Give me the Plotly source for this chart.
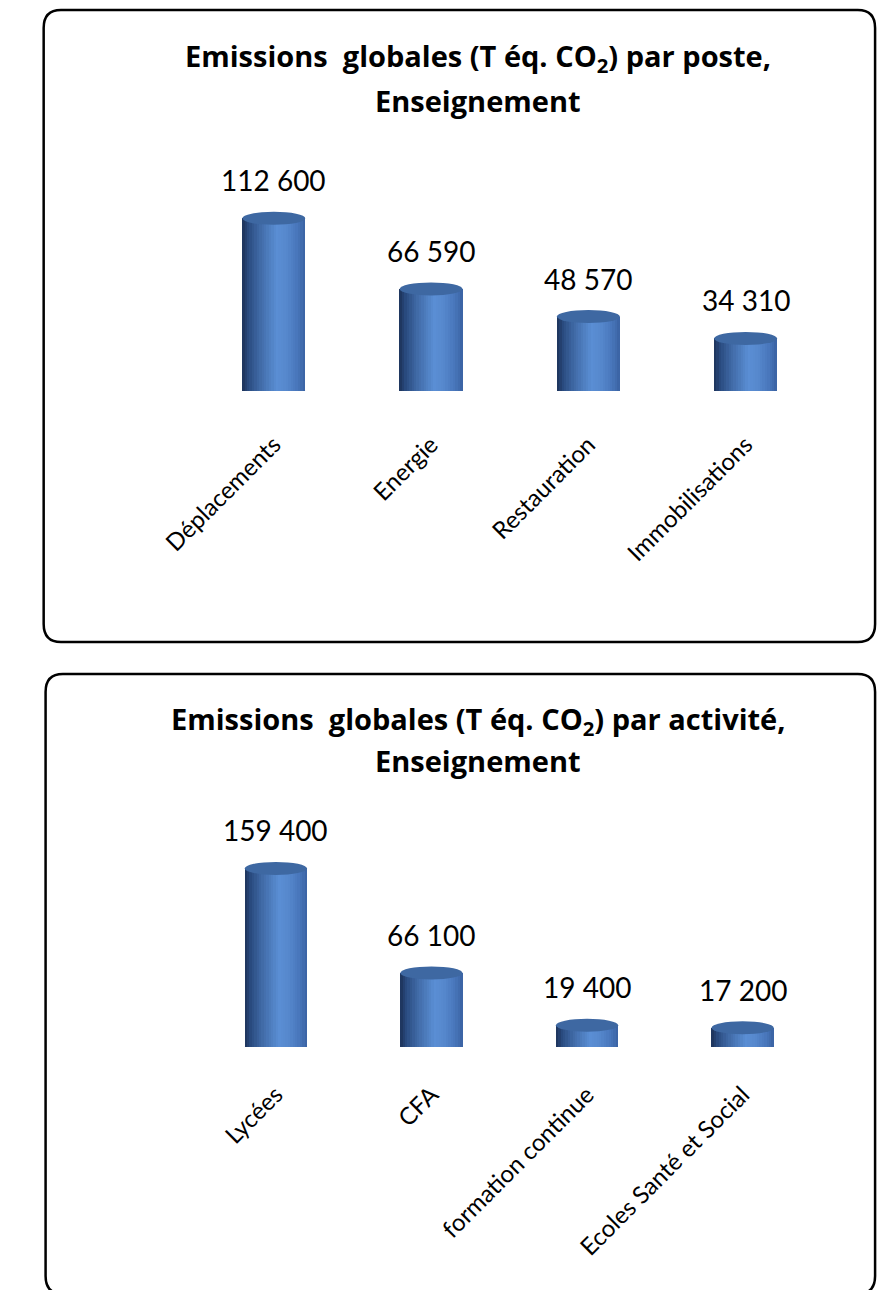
import plotly.graph_objects as go

# ---------------- data ----------------
cats1 = ["Déplacements", "Energie", "Restauration", "Immobilisations"]
vals1 = [112600, 66590, 48570, 34310]
cats2 = ["Lycées", "CFA", "formation continue", "Ecoles Santé et Social"]
vals2 = [159400, 66100, 19400, 17200]
title1 = ["Emissions  globales (T éq. CO<sub>2</sub>) par poste,", "Enseignement"]
title2 = ["Emissions  globales (T éq. CO<sub>2</sub>) par activité,", "Enseignement"]

# ---------------- layout constants (pixels) ----------------
W, H = 877, 1290
FONT = "Lato, 'Open Sans', 'DejaVu Sans', sans-serif"
TFONT = "'Open Sans', Lato, 'DejaVu Sans', sans-serif"
P1 = dict(x0=166, x1=822, ytop=161, ybot=391, ymax=150000)
P2 = dict(x0=169, x1=818, ytop=823, ybot=1047, ymax=200000)
BAR_W = 0.4
NSLICE = 26
TOP_RY_PX = 6.5
BOT_RY_PX = 3.0

stops = [(0.0, (28, 50, 88)), (0.10, (42, 75, 128)), (0.28, (64, 106, 166)),
         (0.55, (90, 142, 212)), (0.70, (86, 136, 205)), (0.88, (72, 118, 186)),
         (1.0, (58, 98, 162))]


def grad(t):
    for (p0, c0), (p1, c1) in zip(stops[:-1], stops[1:]):
        if p0 <= t <= p1:
            f = (t - p0) / (p1 - p0)
            c = [round(a + (b - a) * f) for a, b in zip(c0, c1)]
            return "rgb(%d,%d,%d)" % tuple(c)
    return "rgb(%d,%d,%d)" % stops[-1][1]


def px2x(px):
    return px / W


def px2y(py):
    return 1 - py / H


fig = go.Figure()
shapes = []
annotations = []


def add_chart(cats, vals, P, xa, ya, standoff):
    xref = "x" if xa == "xaxis" else "x2"
    yref = "y" if ya == "yaxis" else "y2"
    idx = list(range(len(cats)))
    dpp = P["ymax"] / (P["ybot"] - P["ytop"])  # data units per pixel
    sw = BAR_W / NSLICE
    for k in range(NSLICE):
        t = (k + 0.5) / NSLICE
        fig.add_trace(go.Bar(
            x=idx, y=vals, xaxis=xref, yaxis=yref,
            width=sw * 1.15, offset=-BAR_W / 2 + k * sw,
            marker=dict(color=grad(t), line=dict(width=0)),
            showlegend=False, hoverinfo="skip"))
    for i, v in zip(idx, vals):
        shapes.append(dict(type="circle", xref=xref, yref=yref,
                           x0=i - BAR_W / 2, x1=i + BAR_W / 2,
                           y0=-BOT_RY_PX * dpp, y1=BOT_RY_PX * dpp,
                           fillcolor=grad(0.5), line=dict(width=0), layer="below"))
        shapes.append(dict(type="circle", xref=xref, yref=yref,
                           x0=i - BAR_W / 2, x1=i + BAR_W / 2,
                           y0=v - TOP_RY_PX * dpp, y1=v + TOP_RY_PX * dpp,
                           fillcolor="rgb(62,104,162)", line=dict(width=0)))
        annotations.append(dict(x=i, y=v, xref=xref, yref=yref,
                                text=f"{v:,}".replace(",", " "),
                                showarrow=False, yanchor="bottom", yshift=19,
                                font=dict(family=FONT, size=28, color="black")))
    fig.layout[xa] = dict(domain=[px2x(P["x0"]), px2x(P["x1"])],
                          range=[-0.5, len(cats) - 0.5],
                          tickmode="array", tickvals=idx, ticktext=cats,
                          tickangle=-45, ticklabelstandoff=standoff,
                          tickfont=dict(family=FONT, size=24, color="black"),
                          showgrid=False, zeroline=False, showline=False, ticks="",
                          anchor=yref)
    fig.layout[ya] = dict(domain=[px2y(P["ybot"]), px2y(P["ytop"])],
                          range=[0, P["ymax"]], showgrid=False, zeroline=False,
                          showline=False, showticklabels=False, anchor=xref)


add_chart(cats1, vals1, P1, "xaxis", "yaxis", 34)
add_chart(cats2, vals2, P2, "xaxis2", "yaxis2", 28)


def title_ann(lines, ys):
    for txt, y in zip(lines, ys):
        annotations.append(dict(x=px2x(461), y=px2y(y), xref="paper", yref="paper",
                                text="<b>" + txt + "</b>", showarrow=False,
                                xanchor="center", yanchor="middle",
                                font=dict(family=TFONT, size=29, color="black")))


title_ann(title1, [57, 100])
title_ann(title2, [720, 760])


def rrect(x0, y0, x1, y1, r):
    X = lambda v: px2x(v)
    Y = lambda v: px2y(v)
    p = (f"M {X(x0 + r)},{Y(y0)} L {X(x1 - r)},{Y(y0)} Q {X(x1)},{Y(y0)} {X(x1)},{Y(y0 + r)} "
         f"L {X(x1)},{Y(y1 - r)} Q {X(x1)},{Y(y1)} {X(x1 - r)},{Y(y1)} "
         f"L {X(x0 + r)},{Y(y1)} Q {X(x0)},{Y(y1)} {X(x0)},{Y(y1 - r)} "
         f"L {X(x0)},{Y(y0 + r)} Q {X(x0)},{Y(y0)} {X(x0 + r)},{Y(y0)} Z")
    return dict(type="path", xref="paper", yref="paper", path=p,
                line=dict(color="black", width=2.5), fillcolor="rgba(0,0,0,0)")


shapes.append(rrect(8, 10, 875, 642, 18))
shapes.append(rrect(10, 674, 875, 1294, 18))

fig.update_layout(width=W, height=H, margin=dict(l=0, r=0, t=0, b=0),
                  paper_bgcolor="white", plot_bgcolor="rgba(0,0,0,0)",
                  barmode="overlay", bargap=0, showlegend=False,
                  shapes=shapes, annotations=annotations)

fig.write_html("out.html")
